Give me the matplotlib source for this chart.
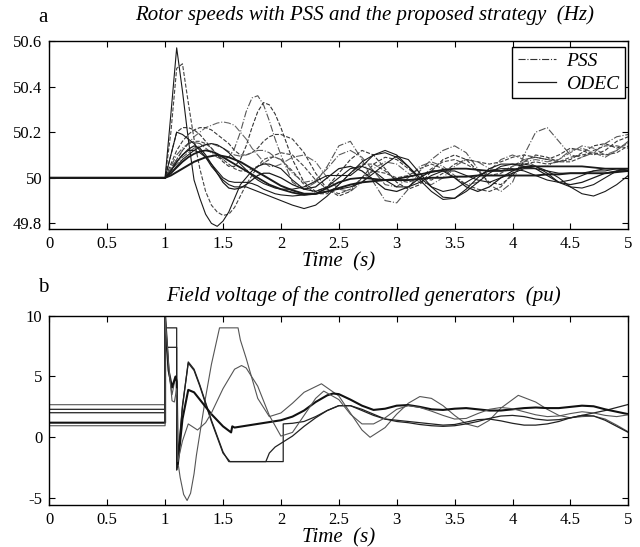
import numpy as np
import matplotlib
matplotlib.use("Agg")
import matplotlib.pyplot as plt
from matplotlib.lines import Line2D
from matplotlib.ticker import FormatStrFormatter

plt.rcParams['font.family'] = ['Liberation Serif', 'DejaVu Serif']

# ---- panel a: rotor speeds, deviation from 50 Hz ----
F0 = 50.0
T_A = np.r_[np.linspace(1.0, 1.95, 20), np.linspace(2.0, 5.0, 31)]

# ODEC (solid)
S1 = [0, 0.28, 0.57, 0.38, 0.17, -0.01, -0.09, -0.16, -0.2, -0.213,
      -0.19, -0.15, -0.09, -0.03, 0.0, 0.03, 0.05, 0.06, 0.06, 0.05,
      0.04, -0.01, -0.05, -0.06, -0.04, 0.0, 0.04, 0.05, 0.03, -0.01,
      -0.04, -0.04, -0.02, 0.01, 0.03, 0.03, 0.01, -0.01, -0.02, 0.0,
      0.02, 0.04, 0.04, 0.03, 0.02, 0.02, 0.02, 0.03, 0.03, 0.04, 0.04]
S2 = [0, 0.1, 0.2, 0.19, 0.17, 0.15, 0.12, 0.09, 0.05, 0.02,
      -0.01, -0.03, -0.04, -0.04, -0.04, -0.05, -0.06, -0.07, -0.08, -0.09,
      -0.1, -0.12, -0.135, -0.12, -0.08, -0.03, 0.02, 0.07, 0.1, 0.11,
      0.09, 0.05, 0.0, -0.04, -0.06, -0.05, -0.02, 0.01, 0.03, 0.04,
      0.04, 0.03, 0.01, -0.01, -0.02, -0.01, 0.01, 0.03, 0.04, 0.04, 0.03]
S3 = [0, 0.03, 0.07, 0.1, 0.125, 0.14, 0.13, 0.1, 0.06, 0.02,
      -0.02, -0.045, -0.05, -0.045, -0.03, -0.01, 0.01, 0.02, 0.02, 0.01,
      0.0, -0.03, -0.05, -0.04, 0.0, 0.04, 0.05, 0.03, -0.01, -0.05,
      -0.06, -0.04, 0.0, 0.03, 0.03, 0.0, -0.04, -0.06, -0.04, 0.0,
      0.03, 0.05, 0.04, 0.01, -0.02, -0.03, -0.02, 0.0, 0.02, 0.03, 0.03]
S4 = [0, 0.01, 0.025, 0.04, 0.055, 0.07, 0.08, 0.09, 0.095, 0.1,
      0.095, 0.09, 0.08, 0.07, 0.055, 0.04, 0.025, 0.01, -0.005, -0.02,
      -0.035, -0.055, -0.07, -0.07, -0.06, -0.045, -0.03, -0.02, -0.015, -0.01,
      -0.01, -0.01, -0.005, 0.0, 0.0, 0.005, 0.005, 0.01, 0.01, 0.01,
      0.01, 0.01, 0.01, 0.015, 0.015, 0.02, 0.02, 0.02, 0.02, 0.025, 0.03]
S5 = [0, 0.02, 0.045, 0.07, 0.09, 0.105, 0.115, 0.12, 0.115, 0.105,
      0.09, 0.075, 0.06, 0.045, 0.03, 0.015, 0.0, -0.015, -0.03, -0.04,
      -0.05, -0.065, -0.075, -0.07, -0.045, -0.02, -0.005, 0.0, -0.005, -0.01,
      -0.005, 0.005, 0.015, 0.025, 0.035, 0.04, 0.04, 0.035, 0.03, 0.03,
      0.035, 0.045, 0.05, 0.05, 0.05, 0.05, 0.05, 0.045, 0.04, 0.04, 0.04]
S6 = [0, 0.02, 0.05, 0.08, 0.1, 0.12, 0.135, 0.145, 0.15, 0.145,
      0.13, 0.11, 0.085, 0.06, 0.035, 0.01, -0.01, -0.025, -0.035, -0.045,
      -0.05, -0.05, -0.04, -0.015, 0.01, 0.01, 0.01, 0.05, 0.1, 0.12,
      0.1, 0.05, -0.01, -0.06, -0.095, -0.09, -0.05, 0.0, 0.04, 0.06,
      0.06, 0.05, 0.05, 0.03, 0.0, -0.04, -0.07, -0.08, -0.06, -0.03, 0.01]
S7 = [0, 0.03, 0.07, 0.1, 0.12, 0.12, 0.11, 0.09, 0.06, 0.03,
      0.0, -0.015, -0.02, -0.02, -0.02, -0.025, -0.035, -0.05, -0.06, -0.07,
      -0.075, -0.08, -0.075, -0.07, -0.06, -0.05, -0.04, -0.02, 0.02, 0.06,
      0.095, 0.08, 0.02, -0.04, -0.085, -0.09, -0.06, -0.02, 0.02, 0.05,
      0.06, 0.06, 0.05, 0.02, -0.02, -0.04, -0.045, -0.03, 0.0, 0.03, 0.04]

# PSS (dashed / dash-dot)
P1 = [0, 0.2, 0.48, 0.5, 0.33, 0.17, 0.04, -0.06, -0.12, -0.15,
      -0.165, -0.16, -0.13, -0.08, -0.03, 0.01, 0.05, 0.08, 0.09, 0.09,
      0.08, 0.03, -0.03, -0.07, -0.07, -0.03, 0.02, 0.06, 0.06, 0.03,
      -0.01, -0.02, 0.0, 0.04, 0.07, 0.08, 0.06, 0.03, 0.01, 0.02,
      0.05, 0.08, 0.09, 0.08, 0.07, 0.07, 0.09, 0.12, 0.14, 0.14, 0.13]
P2 = [0, 0.05, 0.1, 0.13, 0.15, 0.155, 0.15, 0.13, 0.11, 0.09,
      0.08, 0.09, 0.13, 0.2, 0.29, 0.35, 0.36, 0.32, 0.25, 0.17,
      0.1, -0.02, -0.05, -0.02, 0.05, 0.14, 0.16, 0.08, -0.02, -0.1,
      -0.11, -0.05, 0.03, 0.08, 0.12, 0.14, 0.11, 0.04, -0.03, -0.06,
      -0.02, 0.1, 0.2, 0.22, 0.16, 0.1, 0.09, 0.11, 0.15, 0.18, 0.19]
P3 = [0, 0.1, 0.2, 0.22, 0.22, 0.21, 0.19, 0.16, 0.13, 0.1,
      0.07, 0.05, 0.05, 0.08, 0.14, 0.22, 0.29, 0.33, 0.32, 0.28,
      0.22, 0.08, -0.02, -0.06, -0.04, 0.02, 0.08, 0.12, 0.1, 0.04,
      -0.02, -0.05, -0.03, 0.03, 0.08, 0.1, 0.08, 0.03, -0.02, -0.03,
      0.01, 0.07, 0.1, 0.09, 0.07, 0.08, 0.11, 0.14, 0.15, 0.13, 0.15]
P4 = [0, 0.04, 0.08, 0.12, 0.15, 0.18, 0.2, 0.22, 0.23, 0.24,
      0.245, 0.24, 0.23, 0.2, 0.17, 0.13, 0.1, 0.07, 0.05, 0.05,
      0.06, 0.09, 0.1, 0.07, 0.0, -0.05, -0.06, -0.02, 0.04, 0.07,
      0.06, 0.02, -0.02, -0.03, 0.0, 0.05, 0.08, 0.07, 0.04, 0.03,
      0.05, 0.07, 0.08, 0.07, 0.08, 0.11, 0.14, 0.13, 0.1, 0.12, 0.16]
P5 = [0, 0.06, 0.12, 0.16, 0.19, 0.21, 0.22, 0.22, 0.21, 0.19,
      0.17, 0.15, 0.12, 0.1, 0.1, 0.11, 0.13, 0.16, 0.18, 0.19,
      0.19, 0.17, 0.11, 0.02, -0.05, -0.08, -0.06, 0.0, 0.06, 0.09,
      0.08, 0.04, 0.0, -0.01, 0.02, 0.06, 0.08, 0.07, 0.06, 0.07,
      0.09, 0.1, 0.09, 0.08, 0.1, 0.13, 0.12, 0.1, 0.12, 0.16, 0.18]
P6 = [0, 0.03, 0.06, 0.09, 0.11, 0.13, 0.14, 0.145, 0.15, 0.14,
      0.13, 0.115, 0.1, 0.095, 0.1, 0.11, 0.12, 0.12, 0.11, 0.09,
      0.08, 0.02, -0.02, -0.01, 0.04, 0.1, 0.12, 0.09, 0.03, -0.03,
      -0.04, 0.0, 0.05, 0.07, 0.05, 0.01, -0.03, -0.02, 0.03, 0.08,
      0.1, 0.08, 0.05, 0.05, 0.08, 0.12, 0.13, 0.11, 0.09, 0.12, 0.16]
P7 = [0, 0.04, 0.08, 0.12, 0.15, 0.16, 0.16, 0.15, 0.13, 0.1,
      0.08, 0.06, 0.04, 0.03, 0.03, 0.04, 0.05, 0.065, 0.08, 0.1,
      0.11, 0.1, 0.05, -0.01, -0.05, -0.07, -0.05, 0.0, 0.03, 0.02,
      0.0, 0.01, 0.04, 0.06, 0.04, 0.0, -0.03, -0.05, -0.06, -0.04,
      0.02, 0.06, 0.07, 0.06, 0.07, 0.09, 0.1, 0.11, 0.1, 0.11, 0.14]

odec_lines = [S1, S2, S3, S4, S5, S6, S7]
pss_lines = [P1, P2, P3, P4, P5, P6, P7]

# ---- panel b: field voltages (pu) ----
B1_t = [0, 1.0, 1.0, 1.03, 1.06, 1.09, 1.1, 1.11, 1.13, 1.16, 1.19, 1.22, 1.25, 1.27, 1.3,
        1.35, 1.4, 1.47, 1.63, 1.65, 1.7, 1.8, 1.9, 2.0, 2.1, 2.2, 2.35, 2.5, 2.6, 2.7,
        2.77, 2.9, 3.0, 3.1, 3.2, 3.3, 3.4, 3.5, 3.6, 3.7, 3.8, 3.9, 4.05, 4.2, 4.3,
        4.4, 4.5, 4.6, 4.7, 4.8, 4.9, 5.0]
B1_v = [2.68, 2.68, 10, 5.5, 3.5, 5.0, 4.5, -2.0, -3.3, -4.7, -5.2, -4.6, -3.0, -1.5, 0.3,
        3.3, 6.0, 9.0, 9.0, 8.0, 6.5, 3.2, 1.7, 2.0, 2.8, 3.7, 4.4, 3.4, 2.0, 0.6,
        0.0, 0.8, 1.9, 2.8, 3.35, 3.2, 2.6, 1.8, 1.1, 0.85, 1.4, 2.4, 3.45, 2.9, 2.3,
        1.8, 1.6, 1.7, 1.75, 1.5, 1.0, 0.45]
B2_t = [0, 1.0, 1.0, 1.1, 1.1, 1.11, 1.15, 1.2, 1.25, 1.3, 1.4, 1.5, 1.55, 1.87, 1.9,
        1.95, 2.0, 2.1, 2.2, 2.3, 2.4, 2.5, 2.6, 2.7, 2.8, 2.9, 3.0, 3.1, 3.2, 3.3,
        3.4, 3.5, 3.6, 3.7, 3.8, 3.9, 4.0, 4.1, 4.2, 4.3, 4.4, 4.5, 4.6, 4.7, 4.8,
        4.9, 5.0]
B2_v = [2.3, 2.3, 9.0, 9.0, -2.7, -2.0, 2.5, 6.2, 5.6, 4.3, 1.4, -1.2, -2.0, -2.0, -1.3,
        -0.8, -0.5, 0.1, 0.9, 1.6, 2.2, 2.6, 2.6, 2.2, 1.8, 1.5, 1.4, 1.3, 1.2, 1.1,
        1.0, 1.05, 1.25, 1.45, 1.5, 1.35, 1.15, 1.0, 1.0, 1.1, 1.3, 1.6, 1.8, 1.75, 1.4,
        0.9, 0.4]
B3_t = [0, 1.0, 1.0, 1.1, 1.1, 1.11, 1.15, 1.2, 1.25, 1.3, 1.4, 1.5, 1.56, 2.02, 2.02,
        2.1, 2.2, 2.3, 2.4, 2.5, 2.6, 2.7, 2.8, 2.9, 3.0, 3.1, 3.2, 3.3, 3.4, 3.5,
        3.6, 3.7, 3.8, 3.9, 4.0, 4.1, 4.2, 4.3, 4.4, 4.5, 4.6, 4.7, 4.8, 4.9, 5.0]
B3_v = [2.02, 2.02, 7.4, 7.4, -2.5, -1.8, 2.6, 6.1, 5.5, 4.2, 1.3, -1.3, -2.0, -2.0, 1.1,
        1.15, 1.3, 1.7, 2.2, 2.6, 2.6, 2.3, 1.9, 1.5, 1.3, 1.2, 1.05, 0.95, 0.9, 0.95,
        1.1, 1.3, 1.55, 1.75, 1.8, 1.7, 1.5, 1.4, 1.45, 1.6, 1.8, 2.0, 2.2, 2.45, 2.7]
B4_t = [0, 1.0, 1.0, 1.03, 1.06, 1.09, 1.1, 1.11, 1.15, 1.2, 1.25, 1.3, 1.4, 1.5, 1.57,
        1.58, 1.6, 1.7, 1.8, 1.9, 2.0, 2.1, 2.2, 2.3, 2.4, 2.45, 2.5, 2.6, 2.7, 2.8,
        2.9, 3.0, 3.1, 3.2, 3.3, 3.4, 3.5, 3.6, 3.7, 3.8, 3.9, 4.0, 4.1, 4.2, 4.3,
        4.4, 4.5, 4.6, 4.7, 4.8, 4.9, 5.0]
B4_v = [1.2, 1.2, 10, 5.5, 4.1, 5.0, 4.6, -2.2, 1.5, 3.9, 3.7, 3.1, 1.9, 0.9, 0.4,
        0.9, 0.8, 0.95, 1.1, 1.25, 1.4, 1.7, 2.2, 2.9, 3.45, 3.6, 3.55, 3.1, 2.6, 2.25,
        2.35, 2.6, 2.65, 2.5, 2.3, 2.25, 2.35, 2.4, 2.3, 2.2, 2.2, 2.3, 2.4, 2.45, 2.4,
        2.4, 2.5, 2.6, 2.55, 2.3, 2.1, 1.9]
B5_t = [0, 1.0, 1.0, 1.03, 1.06, 1.08, 1.1, 1.11, 1.15, 1.2, 1.28, 1.35, 1.4, 1.5, 1.6,
        1.66, 1.7, 1.8, 1.9, 2.0, 2.1, 2.2, 2.3, 2.37, 2.5, 2.6, 2.7, 2.8, 2.9, 3.0,
        3.1, 3.2, 3.3, 3.4, 3.5, 3.6, 3.7, 3.8, 3.9, 4.0, 4.1, 4.2, 4.3, 4.4, 4.5,
        4.6, 4.7, 4.8, 4.9, 5.0]
B5_v = [0.95, 0.95, 10, 6.0, 3.0, 2.9, 4.0, -2.0, -0.3, 1.1, 0.6, 1.2, 2.0, 4.0, 5.6,
        5.9, 5.7, 4.2, 1.8, 0.1, 0.4, 1.8, 3.2, 3.8, 3.1, 1.9, 1.1, 1.1, 1.6, 2.3,
        2.6, 2.45, 2.15, 1.8, 1.5, 1.55, 1.95, 2.3, 2.45, 2.35, 2.1, 1.85, 1.7, 1.75, 1.95,
        2.1, 2.0, 1.8, 1.7, 1.85]

efd_lines = [(B1_t, B1_v), (B2_t, B2_v), (B3_t, B3_v), (B4_t, B4_v), (B5_t, B5_v)]

X_TICKS = [0, 0.5, 1, 1.5, 2, 2.5, 3, 3.5, 4, 4.5, 5]
A_TICKS = [49.8, 50, 50.2, 50.4, 50.6]
B_TICKS = [-5, 0, 5, 10]

W, H = 640, 547
fig = plt.figure(figsize=(W / 100, H / 100), dpi=100)


def px_box(left, top, right, bottom):
    return [left / W, 1 - bottom / H, (right - left) / W, (bottom - top) / H]


def style_axes(ax):
    ax.tick_params(direction='in', top=True, right=True, length=4, width=0.8,
                   labelsize=12, pad=5)
    for s in ax.spines.values():
        s.set_linewidth(1.0)
    ax.set_xlim(0, 5)
    ax.set_xticks(X_TICKS)
    ax.xaxis.set_major_formatter(FormatStrFormatter('%g'))
    ax.yaxis.set_major_formatter(FormatStrFormatter('%g'))
    ax.set_xlabel('Time  (s)', fontstyle='italic', fontsize=15, labelpad=0)


ax1 = fig.add_axes(px_box(49.3, 41, 628.3, 229.3))
pss_styles = ['--', '-.', '--', '-.', '--', '-.', '--']
pss_colors = ['#444444', '#555555', '#333333', '#666666', '#3a3a3a', '#5a5a5a', '#444444']
for dev, ls, c in zip(pss_lines, pss_styles, pss_colors):
    ax1.plot(np.r_[0, T_A], F0 + np.r_[0, dev], ls=ls, color=c, lw=0.8)
odec_widths = [0.8, 0.8, 0.9, 1.4, 1.3, 0.8, 0.8]
for dev, lw in zip(odec_lines, odec_widths):
    ax1.plot(np.r_[0, T_A], F0 + np.r_[0, dev], ls='-', color='#1a1a1a', lw=lw)
ax1.set_ylim(49.774, 50.6)
ax1.set_yticks(A_TICKS)
style_axes(ax1)

leg_handles = [Line2D([], [], ls='-.', color='#333333', lw=0.8),
               Line2D([], [], ls='-', color='#1a1a1a', lw=0.9)]
leg = ax1.legend(leg_handles, ['PSS', 'ODEC'], loc='upper right',
                 bbox_to_anchor=(0.9945, 0.97), prop={'style': 'italic', 'size': 14},
                 handlelength=2.0, fancybox=False, framealpha=1, edgecolor='black',
                 borderpad=0.3, labelspacing=0.25, handletextpad=0.5, borderaxespad=0)
leg.get_frame().set_linewidth(1.0)

ax2 = fig.add_axes(px_box(49.3, 315.7, 628.3, 505))
efd_colors = ['#555555', '#222222', '#222222', '#111111', '#555555']
efd_widths = [0.8, 0.9, 0.9, 1.5, 0.8]
for (t, v), c, lw in zip(efd_lines, efd_colors, efd_widths):
    ax2.plot(t, v, color=c, lw=lw)
ax2.set_ylim(-5.57, 10)
ax2.set_yticks(B_TICKS)
style_axes(ax2)

fig.text(43 / W, 1 - 17 / H, 'a', fontsize=15, ha='center', va='center')
fig.text(365 / W, 1 - 15 / H, 'Rotor speeds with PSS and the proposed strategy  (Hz)',
         fontsize=15, fontstyle='italic', ha='center', va='center')
fig.text(43 / W, 1 - 287 / H, 'b', fontsize=15, ha='center', va='center')
fig.text(363 / W, 1 - 296 / H, 'Field voltage of the controlled generators  (pu)',
         fontsize=15, fontstyle='italic', ha='center', va='center')

fig.savefig('out.png', dpi=100)
